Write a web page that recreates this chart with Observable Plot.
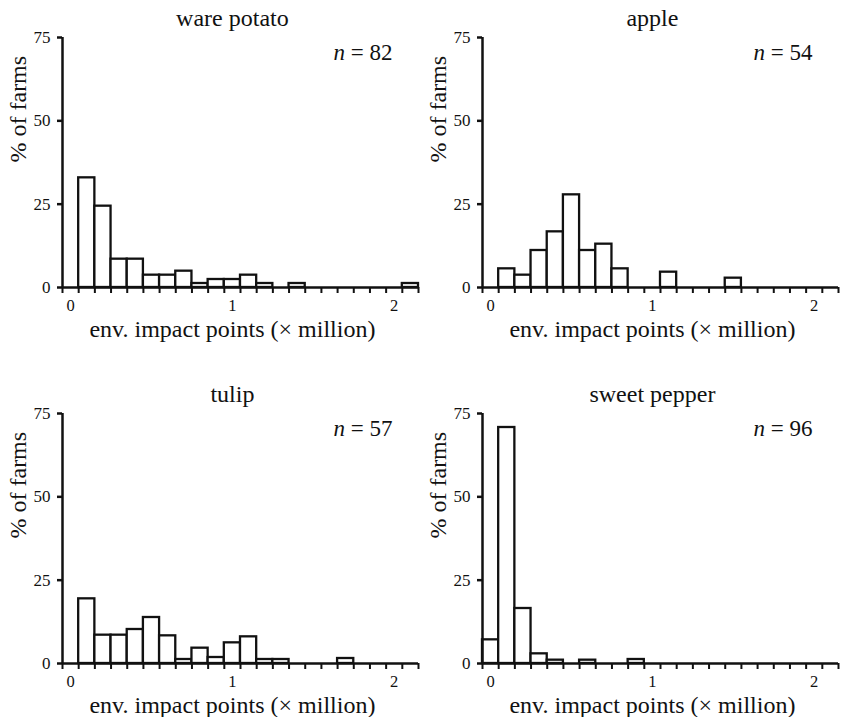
<!DOCTYPE html>
<html><head><meta charset="utf-8">
<script src="https://cdn.jsdelivr.net/npm/d3@7"></script>
<script src="https://cdn.jsdelivr.net/npm/@observablehq/plot@0.6"></script>
<style>
body{margin:0;background:#fff;overflow:hidden;}
#wrap{position:relative;width:843px;height:717px;}
.panel{position:absolute;}
.panel svg, .panel svg text{font-family:"Liberation Serif", "Times New Roman", serif !important;}
</style></head><body><div id="wrap"></div>
<script>
// bin centres (× million env. impact points)
const binCenters = [0, 0.1, 0.2, 0.3, 0.4, 0.5, 0.6, 0.7, 0.8, 0.9, 1.0, 1.1, 1.2, 1.3, 1.4, 1.5, 1.6, 1.7, 1.8, 1.9, 2.0, 2.1];
const binEdges = [-0.05, 0.05, 0.15, 0.25, 0.35, 0.45, 0.55, 0.65, 0.75, 0.85, 0.95, 1.05, 1.15, 1.25, 1.35, 1.45, 1.55, 1.65, 1.75, 1.85, 1.95, 2.05, 2.15];
const crops = ["ware potato", "apple", "tulip", "sweet pepper"];
const sampleSizes = [82, 54, 57, 96];
// % of farms per bin
const warePotato  = [0, 32.9, 24.4, 8.5, 8.5, 3.7, 3.7, 4.9, 1.2, 2.4, 2.4, 3.7, 1.2, 0, 1.2, 0, 0, 0, 0, 0, 0, 1.2];
const apple       = [0, 5.6, 3.7, 11.1, 16.7, 27.8, 11.1, 13.0, 5.6, 0, 0, 4.6, 0, 0, 0, 2.8, 0, 0, 0, 0, 0, 0];
const tulip       = [0, 19.4, 8.5, 8.5, 10.2, 13.8, 8.3, 1.2, 4.6, 1.8, 6.2, 8.0, 1.2, 1.2, 0, 0, 0, 1.5, 0, 0, 0, 0];
const sweetPepper = [7.1, 70.8, 16.5, 2.9, 1.0, 0, 1.0, 0, 0, 1.2, 0, 0, 0, 0, 0, 0, 0, 0, 0, 0, 0, 0];
const series = [warePotato, apple, tulip, sweetPepper];
const yTicks = [0, 25, 50, 75];
const xTickLabels = [0, 1, 2];
const xLabel = "env. impact points (× million)";
const yLabel = "% of farms";
const binHalf = 0.05;

const FONT = "Liberation Serif";
const INK = "#111";
const wrap = document.getElementById("wrap");

crops.forEach((crop, i) => {
  const row = Math.floor(i / 2), col = i % 2;
  const height = row === 0 ? 376 : 341;
  const data = binCenters.map((c, j) => ({c, v: series[i][j]})).filter(d => d.v > 0);
  const chart = Plot.plot({
    width: 420,
    height,
    marginLeft: 62,
    marginRight: 2,
    marginTop: 37,
    marginBottom: height - 287,
    style: {fontFamily: FONT, color: INK, background: "white"},
    x: {domain: [-0.05, 2.15], axis: null},
    y: {domain: [0, 75], axis: null},
    marks: [
      Plot.rectY(data, {x1: d => d.c - binHalf, x2: d => d.c + binHalf, y: "v", fill: "white", stroke: INK, strokeWidth: 2.3}),
      // x tick marks at the bin edges, hanging below the axis
      Plot.ruleX(binEdges, {x: d => d, y1: 0, y2: 0, insetBottom: -6, stroke: INK, strokeWidth: 2}),
      Plot.ruleY([0], {x1: -0.05, x2: 2.15, stroke: INK, strokeWidth: 2.5}),
      Plot.ruleX([-0.05], {y1: 0, y2: 75, stroke: INK, strokeWidth: 2.5}),
      Plot.axisY({ticks: yTicks, tickSize: 5, tickPadding: 7, strokeWidth: 2.5, fontSize: 17, anchor: "left", label: null}),
      Plot.axisX({ticks: xTickLabels, tickSize: 0, tickPadding: 12, tickFormat: d => String(d), fontSize: 16.5, anchor: "bottom", label: null}),
      Plot.text([crop], {x: 1, frameAnchor: "top", lineAnchor: "bottom", dy: -12, fontSize: 24, fill: INK}),
      Plot.text([`n = ${sampleSizes[i]}`], {frameAnchor: "top-right", textAnchor: "end", lineAnchor: "bottom", dx: -26, dy: 22, fontSize: 23, fill: INK}),
      Plot.text([xLabel], {x: 1, frameAnchor: "bottom", lineAnchor: "bottom", dy: 49, fontSize: 24, fill: INK}),
      Plot.text([yLabel], {frameAnchor: "left", rotate: -90, lineAnchor: "bottom", dx: -37, fontSize: 24, fill: INK})
    ]
  });
  // italic n
  chart.querySelectorAll("text").forEach(t => {
    if (t.textContent.startsWith("n = ")) {
      const rest = t.textContent.slice(1);
      t.textContent = "";
      const ns = "http://www.w3.org/2000/svg";
      const a = document.createElementNS(ns, "tspan");
      a.setAttribute("font-style", "italic");
      a.textContent = "n";
      const b = document.createElementNS(ns, "tspan");
      b.textContent = rest;
      t.appendChild(a); t.appendChild(b);
    }
  });
  const div = document.createElement("div");
  div.className = "panel";
  div.style.left = (col * 420) + "px";
  div.style.top = (row * 376) + "px";
  div.appendChild(chart);
  wrap.appendChild(div);
});
</script></body></html>
